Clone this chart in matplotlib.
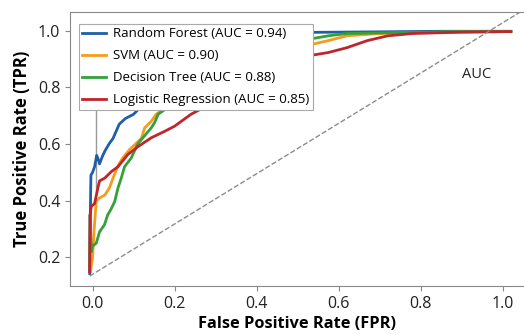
import matplotlib

matplotlib.use("Agg")
import matplotlib.pyplot as plt

plt.rcParams["font.family"] = ["Open Sans", "DejaVu Sans"]

# ROC curves
rf_fpr = [-0.007, -0.006, -0.004, 0.0, 0.005, 0.01, 0.013, 0.017, 0.025, 0.03, 0.04, 0.05,
          0.065, 0.08, 0.1, 0.15, 0.25, 0.35, 0.45, 0.52, 0.7, 0.85, 1.02]
rf_tpr = [0.143, 0.30, 0.49, 0.50, 0.52, 0.56, 0.55, 0.53, 0.56, 0.575, 0.60, 0.62,
          0.67, 0.69, 0.705, 0.78, 0.90, 0.96, 0.985, 0.994, 0.996, 0.998, 0.998]

svm_fpr = [-0.005, 0.0, 0.004, 0.009, 0.017, 0.03, 0.041, 0.05, 0.061, 0.073, 0.09,
           0.119, 0.127, 0.143, 0.155, 0.25, 0.4, 0.52, 0.575, 0.62, 0.7, 0.85, 1.02]
svm_tpr = [0.15, 0.2, 0.3, 0.40, 0.41, 0.42, 0.445, 0.48, 0.52, 0.55, 0.58,
           0.62, 0.657, 0.68, 0.705, 0.80, 0.90, 0.947, 0.965, 0.982, 0.99, 0.995, 0.997]

dt_fpr = [-0.007, -0.006, -0.003, 0.0, 0.009, 0.017, 0.029, 0.037, 0.045, 0.054, 0.062,
          0.07, 0.078, 0.094, 0.11, 0.143, 0.151, 0.16, 0.3, 0.45, 0.52, 0.575, 0.62, 0.8, 1.02]
dt_tpr = [0.15, 0.35, 0.22, 0.24, 0.25, 0.29, 0.315, 0.35, 0.37, 0.397, 0.445,
          0.48, 0.52, 0.55, 0.60, 0.657, 0.675, 0.705, 0.85, 0.94, 0.968, 0.982, 0.99, 0.995, 0.997]

lr_fpr = [-0.007, -0.006, -0.003, 0.005, 0.013, 0.017, 0.03, 0.046, 0.062, 0.086, 0.11,
          0.143, 0.176, 0.2, 0.24, 0.35, 0.45, 0.52, 0.575, 0.62, 0.67, 0.72, 0.78, 0.9, 1.02]
lr_tpr = [0.15, 0.35, 0.38, 0.39, 0.445, 0.47, 0.48, 0.503, 0.52, 0.563, 0.59,
          0.622, 0.645, 0.663, 0.705, 0.79, 0.86, 0.91, 0.923, 0.94, 0.965, 0.982, 0.99, 0.995, 0.997]

labels = ["Random Forest (AUC = 0.94)", "SVM (AUC = 0.90)",
          "Decision Tree (AUC = 0.88)", "Logistic Regression (AUC = 0.85)"]
colors = ["#1f5fa8", "#f59c1a", "#34a03a", "#c0252b"]

diag_x = [-0.007, 1.043]
diag_y = [0.134, 1.066]

marker_x = [0.008, 0.008]
marker_y = [0.38, 0.72]

fig = plt.figure(figsize=(5.24, 3.35), dpi=100)
ax = fig.add_axes([70 / 524, 49 / 335, 454 / 524, 274 / 335])

ax.plot(marker_x, marker_y, color="#9a9a9a", lw=1)
curves = [(rf_fpr, rf_tpr), (svm_fpr, svm_tpr), (dt_fpr, dt_tpr), (lr_fpr, lr_tpr)]
for (x, y), lab, c in zip(curves, labels, colors):
    ax.plot(x, y, color=c, lw=2, label=lab)
ax.plot(diag_x, diag_y, "--", color="#8c8c8c", lw=1)

ax.text(0.937, 0.844, "AUC", fontsize=10.5, ha="center", va="center", color="#222")

ax.set_xlim(-0.055, 1.052)
ax.set_ylim(0.099, 1.066)
ax.set_xticks([0.0, 0.2, 0.4, 0.6, 0.8, 1.0])
ax.set_yticks([0.2, 0.4, 0.6, 0.8, 1.0])
ax.tick_params(labelsize=11.5, colors="#222", length=3.5, color="#888")
for side in ["left", "bottom", "top"]:
    ax.spines[side].set_color("#888")
ax.spines["right"].set_visible(False)

ax.set_xlabel("False Positive Rate (FPR)", fontsize=11.8, fontweight="bold", labelpad=3)
ax.set_ylabel("True Positive Rate (TPR)", fontsize=12, fontweight="bold", labelpad=5)

leg = ax.legend(loc="upper left", bbox_to_anchor=(0.02, 0.956), fontsize=9.5,
                frameon=True, fancybox=False, edgecolor="#aaa", framealpha=1,
                handlelength=1.8, handletextpad=0.55, labelspacing=0.68,
                borderaxespad=0, borderpad=0.25)
leg.get_frame().set_linewidth(0.8)

fig.savefig("out.png", dpi=100)
